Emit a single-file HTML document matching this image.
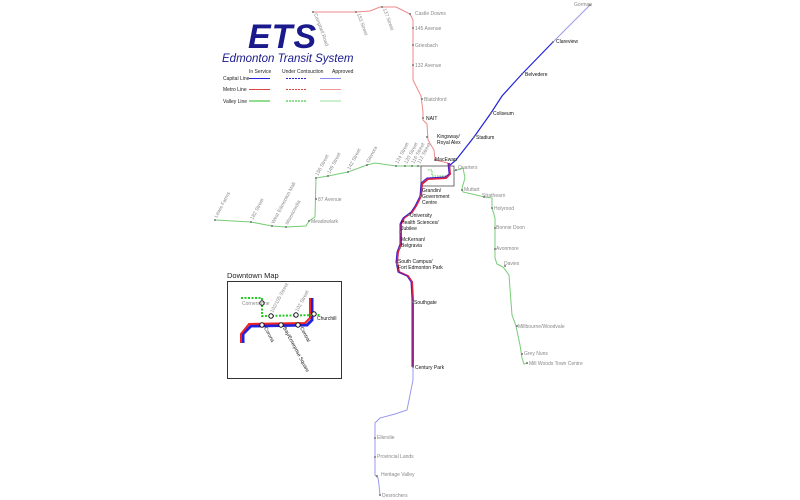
<!DOCTYPE html>
<html><head><meta charset="utf-8"><style>
html,body{margin:0;padding:0;background:#fff;}
svg{display:block;font-family:"Liberation Sans","DejaVu Sans",sans-serif;}
.g{fill:#888;font-size:5px;}
.k{fill:#111;font-size:5px;}
</style></head><body>
<svg width="800" height="500" viewBox="0 0 800 500" xmlns="http://www.w3.org/2000/svg">
<rect width="800" height="500" fill="#fff"/>
<!-- title -->
<text x="248" y="48" font-size="34" font-weight="bold" font-style="italic" fill="#1a1a8c" letter-spacing="1">ETS</text>
<text x="222" y="62" font-size="11.5" font-style="italic" fill="#1a1a8c">Edmonton Transit System</text>
<!-- legend -->
<g font-size="5" fill="#222">
<text x="249" y="73">In Service</text><text x="282" y="73">Under Contsuction</text><text x="332" y="73">Approved</text>
<text x="223" y="80">Capital Line</text><text x="223" y="91">Metro Line</text><text x="223" y="103">Valley Line</text>
</g>
<g stroke-width="1">
<line x1="249" y1="78.5" x2="270" y2="78.5" stroke="#2222dd"/>
<line x1="286" y1="78.5" x2="306" y2="78.5" stroke="#2222dd" stroke-dasharray="2,1"/>
<line x1="320" y1="78.5" x2="341" y2="78.5" stroke="#8888ee"/>
<line x1="249" y1="89.5" x2="270" y2="89.5" stroke="#e04444"/>
<line x1="286" y1="89.5" x2="306" y2="89.5" stroke="#e04444" stroke-dasharray="2,1"/>
<line x1="320" y1="89.5" x2="341" y2="89.5" stroke="#ee9999"/>
<line x1="249" y1="101" x2="270" y2="101" stroke="#22bb22"/>
<line x1="286" y1="101" x2="306" y2="101" stroke="#22bb22" stroke-dasharray="2,1"/>
<line x1="320" y1="101" x2="341" y2="101" stroke="#99dd99"/>
</g>
<!-- Metro line (north) -->
<path d="M313,12 L356,12 L370,11 L380,7 L396,7 L410,14 L413,20 L413,80 L421,96 L423,112 L423,120 L427,124 L428,140 L434,150 L435,160 L448,163" fill="none" stroke="#ee8888" stroke-width="1"/>
<!-- Capital line north -->
<path d="M590,5 L553,42" stroke="#9999ee" stroke-width="1" fill="none"/>
<path d="M553,42 L522,74 L502,96 L491,113 L474,137 L456,160 L449,166" stroke="#2222dd" stroke-width="1.2" fill="none"/>
<!-- Valley line -->
<path d="M215,220 L251,222 L272,226 L286,227 L306,226 L309,221 L315,217 L316,178 L328,176 L348,172 L367,165 L375,163 L396,166 L421,166" fill="none" stroke="#77cc77" stroke-width="1"/>
<path d="M454,171 L463,168 L465,178 L462,188 L463,192 L485,197 L492,198 L492,208 L495,218 L495,258 L497,264 L503,267 L509,275 L512,315 L516,326 L520,345 L522,358 L524,364 L528,363" fill="none" stroke="#77cc77" stroke-width="1"/>
<!-- downtown box -->
<rect x="421" y="166" width="33" height="20" fill="none" stroke="#333" stroke-width="0.7"/>
<path d="M428,170 L432,170 L432,176 L447,176" fill="none" stroke="#22bb22" stroke-width="0.8" stroke-dasharray="1.5,1"/>
<!-- purple trunk -->
<path d="M449,163 L450,174 L446,178 L428,179 L422,184 L421,196 L416,206 L412,212 L404,218 L401,224 L401,244 L398,252 L397,262 L399,272 L408,276 L412,282 L413,300 L413,367" fill="none" stroke="#dd2244" stroke-width="2"/>
<path d="M448,163 L449,174 L445,177 L427,178 L421,183 L420,196 L415,206 L411,212 L403,218 L400,224 L400,244 L397,252 L396,262 L398,272 L407,276 L411,282 L412,300 L412,367" fill="none" stroke="#4422cc" stroke-width="1"/>
<!-- Capital south approved -->
<path d="M413,367 L413,380 L410,395 L407,410 L395,414 L380,418 L375,423 L375,438 L375,475 L378,478 L379,485 L380,495" fill="none" stroke="#9999ee" stroke-width="1"/>
<!-- station dots -->
<g fill="#777">
<circle cx="313" cy="12" r="1"/><circle cx="356" cy="12" r="1"/><circle cx="382" cy="7" r="1"/><circle cx="410" cy="14" r="1"/>
<circle cx="413" cy="28" r="1"/><circle cx="413" cy="45" r="1"/><circle cx="413" cy="65" r="1"/><circle cx="422" cy="99" r="1"/><circle cx="423" cy="118" r="1"/><circle cx="427" cy="137" r="1"/><circle cx="435" cy="160" r="1"/>
<circle cx="590" cy="5" r="1"/><circle cx="553" cy="42" r="1"/><circle cx="522" cy="74" r="1"/><circle cx="491" cy="113" r="1"/><circle cx="474" cy="137" r="1"/>
<circle cx="215" cy="220" r="1"/><circle cx="251" cy="222" r="1"/><circle cx="272" cy="226" r="1"/><circle cx="286" cy="227" r="1"/><circle cx="309" cy="221" r="1"/><circle cx="316" cy="199" r="1"/><circle cx="316" cy="178" r="1"/><circle cx="328" cy="176" r="1"/><circle cx="348" cy="172" r="1"/><circle cx="367" cy="165" r="1"/><circle cx="396" cy="166" r="1"/><circle cx="405" cy="166" r="1"/><circle cx="412" cy="166" r="1"/><circle cx="418" cy="166" r="1"/>
<circle cx="456" cy="170" r="1"/><circle cx="462" cy="190" r="1"/><circle cx="484" cy="197" r="1"/><circle cx="492" cy="208" r="1"/><circle cx="495" cy="228" r="1"/><circle cx="495" cy="249" r="1"/><circle cx="505" cy="266" r="1"/><circle cx="517" cy="326" r="1"/><circle cx="522" cy="354" r="1"/><circle cx="527" cy="363" r="1"/>
<circle cx="420" cy="196" r="1"/><circle cx="409" cy="215" r="1"/><circle cx="400" cy="232" r="1"/><circle cx="400" cy="248" r="1"/><circle cx="397" cy="264" r="1"/><circle cx="413" cy="302" r="1"/><circle cx="413" cy="367" r="1"/>
<circle cx="375" cy="438" r="1"/><circle cx="375" cy="457" r="1"/><circle cx="377" cy="476" r="1"/><circle cx="380" cy="495" r="1"/>
</g>
<!-- labels metro -->
<text class="g" x="415" y="15">Castle Downs</text>
<text class="g" x="415" y="30">145 Avenue</text>
<text class="g" x="415" y="47">Griesbach</text>
<text class="g" x="415" y="67">132 Avenue</text>
<text class="g" x="424" y="101">Blatchford</text>
<text class="k" x="426" y="120">NAIT</text>
<text class="k" x="437" y="138">Kingsway/</text><text class="k" x="437" y="144">Royal Alex</text>
<text class="k" x="435" y="161">MacEwan</text>
<text class="g" transform="translate(314,14) rotate(70)">Campbell Road</text>
<text class="g" transform="translate(357,14) rotate(70)">153 Street</text>
<text class="g" transform="translate(383,9) rotate(70)">137 Street</text>
<!-- capital -->
<text class="g" x="574" y="6">Gorman</text>
<text class="k" x="556" y="43">Clareview</text>
<text class="k" x="525" y="76">Belvedere</text>
<text class="k" x="493" y="115">Coliseum</text>
<text class="k" x="476" y="139">Stadium</text>
<text class="k" x="422" y="192">Grandin/</text><text class="k" x="422" y="198">Government</text><text class="k" x="422" y="204">Centre</text>
<text class="k" x="410" y="217">University</text>
<text class="k" x="401" y="224">Health Sciences/</text><text class="k" x="401" y="230">Jubilee</text>
<text class="k" x="401" y="241">McKernan/</text><text class="k" x="401" y="247">Belgravia</text>
<text class="k" x="398" y="263">South Campus/</text><text class="k" x="398" y="269">Fort Edmonton Park</text>
<text class="k" x="414" y="304">Southgate</text>
<text class="k" x="415" y="369">Century Park</text>
<text class="g" x="377" y="439">Ellerslie</text>
<text class="g" x="377" y="458">Provincial Lands</text>
<text class="g" x="381" y="476">Heritage Valley</text>
<text class="g" x="382" y="497">Desrochers</text>
<!-- valley -->
<text class="g" x="458" y="169">Quarters</text>
<text class="g" x="464" y="191">Muttart</text>
<text class="g" x="482" y="197">Strathearn</text>
<text class="g" x="494" y="210">Holyrood</text>
<text class="g" x="496" y="229">Bonnie Doon</text>
<text class="g" x="496" y="250">Avonmore</text>
<text class="g" x="504" y="265">Davies</text>
<text class="g" x="518" y="328">Millbourne/Woodvale</text>
<text class="g" x="524" y="355">Grey Nuns</text>
<text class="g" x="529" y="365">Mill Woods Town Centre</text>
<text class="g" x="318" y="201">87 Avenue</text>
<text class="g" x="311" y="223">Meadowlark</text>
<text class="g" transform="translate(217,218) rotate(-62)">Lewis Farms</text>
<text class="g" transform="translate(253,220) rotate(-62)">182 Street</text>
<text class="g" transform="translate(274,224) rotate(-62)">West Edmonton Mall</text>
<text class="g" transform="translate(288,225) rotate(-62)">Misericordia</text>
<text class="g" transform="translate(318,176) rotate(-62)">156 Street</text>
<text class="g" transform="translate(330,174) rotate(-62)">149 Street</text>
<text class="g" transform="translate(350,170) rotate(-62)">142 Street</text>
<text class="g" transform="translate(369,163) rotate(-62)">Glenora</text>
<text class="g" transform="translate(398,164) rotate(-62)">124 Street</text>
<text class="g" transform="translate(407,164) rotate(-62)">120 Street</text>
<text class="g" transform="translate(414,164) rotate(-62)">116 Street</text>
<text class="g" transform="translate(420,164) rotate(-62)">112 Street</text>
<!-- downtown map -->
<text x="227" y="278" font-size="7.5" fill="#222">Downtown Map</text>
<rect x="227.5" y="281.5" width="114" height="97" fill="#fff" stroke="#333" stroke-width="1"/>
<path d="M243,343 L243,334 L251,326 L307,325 L312,320 L312,298" fill="none" stroke="#2222dd" stroke-width="3"/>
<path d="M241,343 L241,334 L249,324 L305,323 L310,318 L310,298" fill="none" stroke="#ee2222" stroke-width="2"/>
<path d="M241,298 L262,298 L262,316 L320,315" fill="none" stroke="#22cc22" stroke-width="2" stroke-dasharray="2,1.5"/>
<g fill="#fff" stroke="#111" stroke-width="1">
<circle cx="262" cy="303" r="2.2"/><circle cx="271" cy="316" r="2.2"/><circle cx="296" cy="315" r="2.2"/><circle cx="314" cy="314" r="2.2"/>
<circle cx="262" cy="325" r="2.2"/><circle cx="281" cy="325" r="2.2"/><circle cx="298" cy="325" r="2.2"/>
</g>
<text class="g" x="242" y="305" font-size="4.5">Cornerstone</text>
<text class="k" x="317" y="320" font-size="4.5">Churchill</text>
<text class="g" transform="translate(273,313) rotate(-62)" font-size="4.5">102/105 Street</text>
<text class="g" transform="translate(298,312) rotate(-62)" font-size="4.5">102 Street</text>
<text class="k" transform="translate(264,328) rotate(62)" font-size="4.5">Corona</text>
<text class="k" transform="translate(283,328) rotate(62)" font-size="4.5">Bay/Enterprise Square</text>
<text class="k" transform="translate(300,328) rotate(62)" font-size="4.5">Central</text>
</svg>
</body></html>
